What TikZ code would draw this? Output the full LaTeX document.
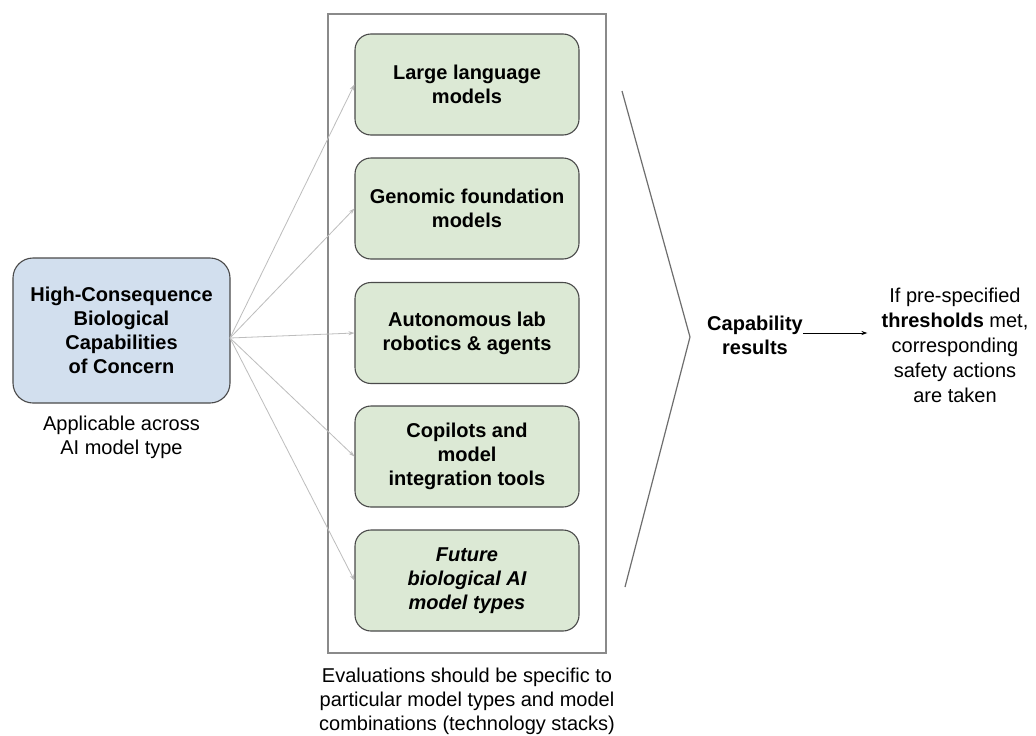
\documentclass[tikz,border=0pt]{standalone}
\usepackage{fontspec}
\setmainfont{Liberation Sans}
\usetikzlibrary{arrows.meta}
\definecolor{bluefill}{HTML}{D2DFEE}
\definecolor{greenfill}{HTML}{DCE9D5}
\definecolor{edgegray}{HTML}{4A4A4A}
\definecolor{framegray}{HTML}{8A8A8A}
\definecolor{linkgray}{HTML}{BDBDBD}
\begin{document}
\begin{tikzpicture}[x=1pt,y=-1pt,
  txt/.style={font=\fontsize{20}{24}\selectfont, align=center, inner sep=0pt},
  bluebox/.style={txt, font=\fontsize{20}{24}\selectfont\bfseries, draw=edgegray, line width=1.1pt, fill=bluefill, rounded corners=20pt, minimum width=217pt, minimum height=145pt},
  greenbox/.style={txt, font=\fontsize{20}{24}\selectfont\bfseries, draw=edgegray, line width=1.1pt, fill=greenfill, rounded corners=16pt, minimum width=224pt, minimum height=101pt},
  link/.style={draw=linkgray, line width=0.8pt, -{Stealth[length=6pt,width=4pt]}},
  frame/.style={draw=framegray, line width=1.4pt}
]
\useasboundingbox (0,0) rectangle (1036,736);
\fill[white] (0,0) rectangle (1036,736);

% outer frame
\node[frame, minimum width=278pt, minimum height=639pt, inner sep=0pt] (frm) at (467,333.5) {};

% left box
\node[bluebox] (hc) at (121.5,330.5) {High-Consequence\\Biological\\Capabilities\\of Concern};
\node[txt] (app) at (121.5,437) {Applicable across\\AI model type};

% model boxes
\node[greenbox] (m1) at (467,84.5) {Large language\\models};
\node[greenbox] (m2) at (467,208.5) {Genomic foundation\\models};
\node[greenbox] (m3) at (467,333) {Autonomous lab\\robotics \& agents};
\node[greenbox] (m4) at (467,456.5) {Copilots and\\model\\integration tools};
\node[greenbox, font=\fontsize{20}{24}\selectfont\bfseries\itshape] (m5) at (467,580.5) {Future\\biological AI\\model types};

\node[txt] (evl) at (467,701) {Evaluations should be specific to\\particular model types and model\\combinations (technology stacks)};

% connectors
\coordinate (src) at (230,338);
\draw[link] (src) -- (m1.west);
\draw[link] (src) -- (m2.west);
\draw[link] (src) -- (m3.west);
\draw[link] (src) -- (m4.west);
\draw[link] (src) -- (m5.west);

% chevron
\coordinate (c1) at (622,91);
\coordinate (c2) at (690,337);
\coordinate (c3) at (625,587);
\draw[draw=framegray!80!black, line width=1.2pt] (c1) -- (c2) -- (c3);

% results
\node[txt, font=\fontsize{20}{24}\selectfont\bfseries] (cap) at (755,335) {Capability\\results};
\node[txt, font=\fontsize{20}{25}\selectfont] (res) at (955,345) {If pre-specified\\\textbf{thresholds} met,\\corresponding\\safety actions\\are taken};
\draw[line width=1pt, -{Stealth[length=6pt,width=4pt]}, shorten >=14pt] ([yshift=2pt]cap.east) -- ([yshift=2pt]cap.east -| res.west);
\end{tikzpicture}
\end{document}
